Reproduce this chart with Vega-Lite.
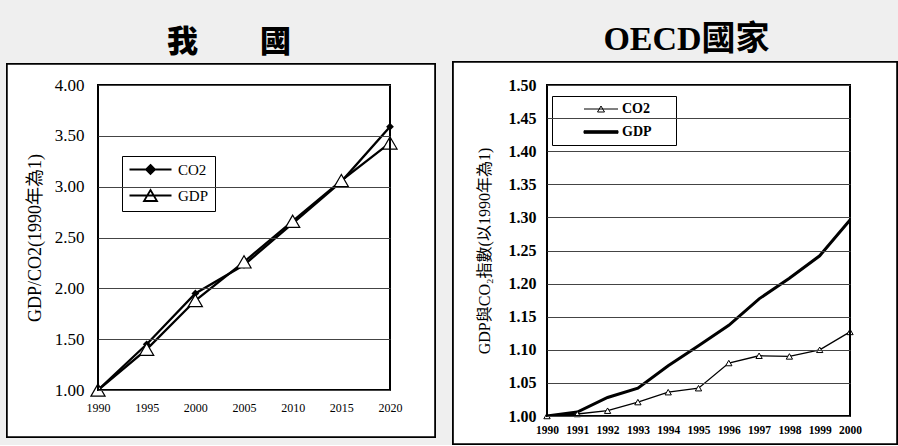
{
  "$schema": "https://vega.github.io/schema/vega-lite/v6.json",
  "background": "#efefef",
  "padding": {"left": 6, "top": 23, "right": 0, "bottom": 0},
  "spacing": 16,
  "resolve": {"scale": {"shape": "independent", "fill": "independent", "stroke": "independent"}, "legend": {"shape": "independent", "fill": "independent", "stroke": "independent"}},
  "datasets": {
    "taiwan": [
      {"series": "CO2", "year": 1990, "value": 1.00},
      {"series": "CO2", "year": 1995, "value": 1.45},
      {"series": "CO2", "year": 2000, "value": 1.95},
      {"series": "CO2", "year": 2005, "value": 2.23},
      {"series": "CO2", "year": 2010, "value": 2.64},
      {"series": "CO2", "year": 2015, "value": 3.05},
      {"series": "CO2", "year": 2020, "value": 3.59},
      {"series": "GDP", "year": 1990, "value": 1.00},
      {"series": "GDP", "year": 1995, "value": 1.40},
      {"series": "GDP", "year": 2000, "value": 1.88},
      {"series": "GDP", "year": 2005, "value": 2.26},
      {"series": "GDP", "year": 2010, "value": 2.66},
      {"series": "GDP", "year": 2015, "value": 3.06},
      {"series": "GDP", "year": 2020, "value": 3.43}
    ],
    "oecd": [
      {"series": "CO2", "year": 1990, "value": 1.000},
      {"series": "CO2", "year": 1991, "value": 1.003},
      {"series": "CO2", "year": 1992, "value": 1.008},
      {"series": "CO2", "year": 1993, "value": 1.021},
      {"series": "CO2", "year": 1994, "value": 1.036},
      {"series": "CO2", "year": 1995, "value": 1.042},
      {"series": "CO2", "year": 1996, "value": 1.080},
      {"series": "CO2", "year": 1997, "value": 1.091},
      {"series": "CO2", "year": 1998, "value": 1.090},
      {"series": "CO2", "year": 1999, "value": 1.100},
      {"series": "CO2", "year": 2000, "value": 1.127},
      {"series": "GDP", "year": 1990, "value": 1.000},
      {"series": "GDP", "year": 1991, "value": 1.006},
      {"series": "GDP", "year": 1992, "value": 1.028},
      {"series": "GDP", "year": 1993, "value": 1.042},
      {"series": "GDP", "year": 1994, "value": 1.076},
      {"series": "GDP", "year": 1995, "value": 1.106},
      {"series": "GDP", "year": 1996, "value": 1.137},
      {"series": "GDP", "year": 1997, "value": 1.177},
      {"series": "GDP", "year": 1998, "value": 1.208},
      {"series": "GDP", "year": 1999, "value": 1.242},
      {"series": "GDP", "year": 2000, "value": 1.296}
    ]
  },
  "hconcat": [
    {
      "width": 292,
      "height": 305,
      "title": {"text": "我　　國", "fontSize": 31, "font": "Noto Sans CJK TC", "fontWeight": 900, "anchor": "middle", "dx": -15, "offset": 4, "color": "black"},
      "data": {"name": "taiwan"},
      "encoding": {
        "x": {"field": "year", "type": "quantitative", "scale": {"domain": [1990, 2020], "nice": false, "zero": false},
              "axis": {"title": null, "values": [1990, 1995, 2000, 2005, 2010, 2015, 2020], "format": "d", "labelFontSize": 12, "labelPadding": 12, "labelFlush": false, "labelOverlap": false, "grid": false, "zindex": 1}},
        "y": {"field": "value", "type": "quantitative", "scale": {"domain": [1, 4], "nice": false, "zero": false},
              "axis": {"title": "GDP/CO2(1990年為1)", "values": [1, 1.5, 2, 2.5, 3, 3.5, 4], "format": ".2f", "labelFontSize": 17, "labelPadding": 14, "labelFlush": false, "labelOverlap": false, "titleFontSize": 18, "titlePadding": 10, "titleFontWeight": "normal", "grid": true, "zindex": 1}}
      },
      "layer": [
        {"mark": {"type": "rect", "fill": "white", "stroke": "black", "strokeWidth": 1.5},
         "encoding": {"x": {"datum": 1980.65, "type": "quantitative"}, "x2": {"datum": 2024.62}, "y": {"datum": 4.2066, "type": "quantitative"}, "y2": {"datum": 0.5377}}},
        {"mark": {"type": "line", "strokeWidth": 2.3, "color": "black"},
         "encoding": {"detail": {"field": "series", "type": "nominal"}}},
        {"transform": [{"filter": "datum.series == 'CO2'"}],
         "mark": {"type": "point", "shape": "diamond", "filled": true, "color": "black", "size": 60, "opacity": 1}},
        {"transform": [{"filter": "datum.series == 'GDP'"}],
         "mark": {"type": "point", "shape": "triangle-up", "filled": true, "fill": "white", "stroke": "black", "strokeWidth": 1.2, "size": 200, "opacity": 1}},
        {"mark": {"type": "point", "filled": true, "opacity": 0, "size": 100, "strokeWidth": 1.8},
         "encoding": {
           "shape": {"field": "series", "type": "nominal",
                     "scale": {"domain": ["CO2", "GDP"], "range": ["M-4.2,0H4.2M0,-0.9L0.9,0L0,0.9L-0.9,0Z", "M-4.2,0H4.2M0,-1.1L1.3,1.1L-1.3,1.1Z"]},
                     "legend": {"title": null, "orient": "none", "legendX": 24, "legendY": 71, "padding": 6, "strokeColor": "black", "fillColor": "white",
                                "labelFont": "Liberation Serif", "labelFontSize": 15, "labelColor": "black", "symbolSize": 100, "symbolOffset": 15, "labelOffset": 20, "rowPadding": 8,
                                "symbolOpacity": 1, "symbolStrokeWidth": 1.8}},
           "fill": {"field": "series", "type": "nominal", "scale": {"domain": ["CO2", "GDP"], "range": ["black", "white"]}, "legend": null},
           "stroke": {"field": "series", "type": "nominal", "scale": {"domain": ["CO2", "GDP"], "range": ["black", "black"]}, "legend": null}
         }},
        {"mark": {"type": "rect", "fill": "transparent", "stroke": "black", "strokeWidth": 1.2},
         "encoding": {"x": {"datum": 1990, "type": "quantitative"}, "x2": {"datum": 2020}, "y": {"datum": 4, "type": "quantitative"}, "y2": {"datum": 1}}}
      ]
    },
    {
      "width": 303,
      "height": 331,
      "title": {"text": "OECD國家", "fontSize": 34, "font": "Liberation Serif, Noto Sans CJK TC", "fontWeight": "bold", "anchor": "middle", "dx": -12, "offset": 4, "color": "black"},
      "data": {"name": "oecd"},
      "encoding": {
        "x": {"field": "year", "type": "quantitative", "scale": {"domain": [1990, 2000], "nice": false, "zero": false},
              "axis": {"title": null, "values": [1990, 1991, 1992, 1993, 1994, 1995, 1996, 1997, 1998, 1999, 2000], "format": "d", "labelFontSize": 11.5, "labelFontWeight": "bold", "labelPadding": 8, "labelFlush": false, "labelOverlap": false, "grid": false, "zindex": 1}},
        "y": {"field": "value", "type": "quantitative", "scale": {"domain": [1, 1.5], "nice": false, "zero": false},
              "axis": {"title": "GDP與CO₂指數(以1990年為1)", "values": [1, 1.05, 1.1, 1.15, 1.2, 1.25, 1.3, 1.35, 1.4, 1.45, 1.5], "format": ".2f", "labelFontSize": 16, "labelFontWeight": "bold", "labelPadding": 11, "labelFlush": false, "labelOverlap": false, "titleFontSize": 16, "titlePadding": 16, "titleFontWeight": "normal", "grid": true, "zindex": 1}}
      },
      "layer": [
        {"mark": {"type": "rect", "fill": "white", "stroke": "black", "strokeWidth": 1.5},
         "encoding": {"x": {"datum": 1986.9, "type": "quantitative"}, "x2": {"datum": 2001.55}, "y": {"datum": 1.5347, "type": "quantitative"}, "y2": {"datum": 0.9577}}},
        {"transform": [{"filter": "datum.series == 'CO2'"}],
         "mark": {"type": "line", "strokeWidth": 1.3, "color": "black"}},
        {"transform": [{"filter": "datum.series == 'GDP'"}],
         "mark": {"type": "line", "strokeWidth": 3, "color": "black"}},
        {"transform": [{"filter": "datum.series == 'CO2'"}],
         "mark": {"type": "point", "shape": "triangle-up", "filled": true, "fill": "white", "stroke": "black", "strokeWidth": 1, "size": 40, "opacity": 1}},
        {"mark": {"type": "point", "filled": true, "opacity": 0, "size": 100, "strokeWidth": 1},
         "encoding": {
           "shape": {"field": "series", "type": "nominal",
                     "scale": {"domain": ["CO2", "GDP"], "range": ["M-3.4,0H3.4M0,-0.6L0.7,0.6L-0.7,0.6ZM13.4,0", "M-3.4,-0.25H3.4V0.25H-3.4Z"]},
                     "legend": {"title": null, "orient": "none", "legendX": 5, "legendY": 11, "padding": 6, "strokeColor": "black", "fillColor": "white",
                                "labelFont": "Liberation Serif", "labelFontSize": 14, "labelFontWeight": "bold", "labelColor": "black", "symbolSize": 100, "symbolOffset": 36, "labelOffset": 14, "rowPadding": 9,
                                "symbolOpacity": 1, "symbolStrokeWidth": 1}},
           "fill": {"field": "series", "type": "nominal", "scale": {"domain": ["CO2", "GDP"], "range": ["white", "black"]}, "legend": null},
           "stroke": {"field": "series", "type": "nominal", "scale": {"domain": ["CO2", "GDP"], "range": ["black", "black"]}, "legend": null}
         }},
        {"mark": {"type": "rect", "fill": "transparent", "stroke": "black", "strokeWidth": 1.2},
         "encoding": {"x": {"datum": 1990, "type": "quantitative"}, "x2": {"datum": 2000}, "y": {"datum": 1.5, "type": "quantitative"}, "y2": {"datum": 1}}}
      ]
    }
  ],
  "config": {
    "view": {"stroke": null},
    "axis": {"labelFont": "Liberation Serif", "titleFont": "Liberation Serif, Noto Sans CJK TC", "labelColor": "black", "titleColor": "black", "gridColor": "#444444", "gridWidth": 1, "domain": false, "ticks": false}
  }
}
